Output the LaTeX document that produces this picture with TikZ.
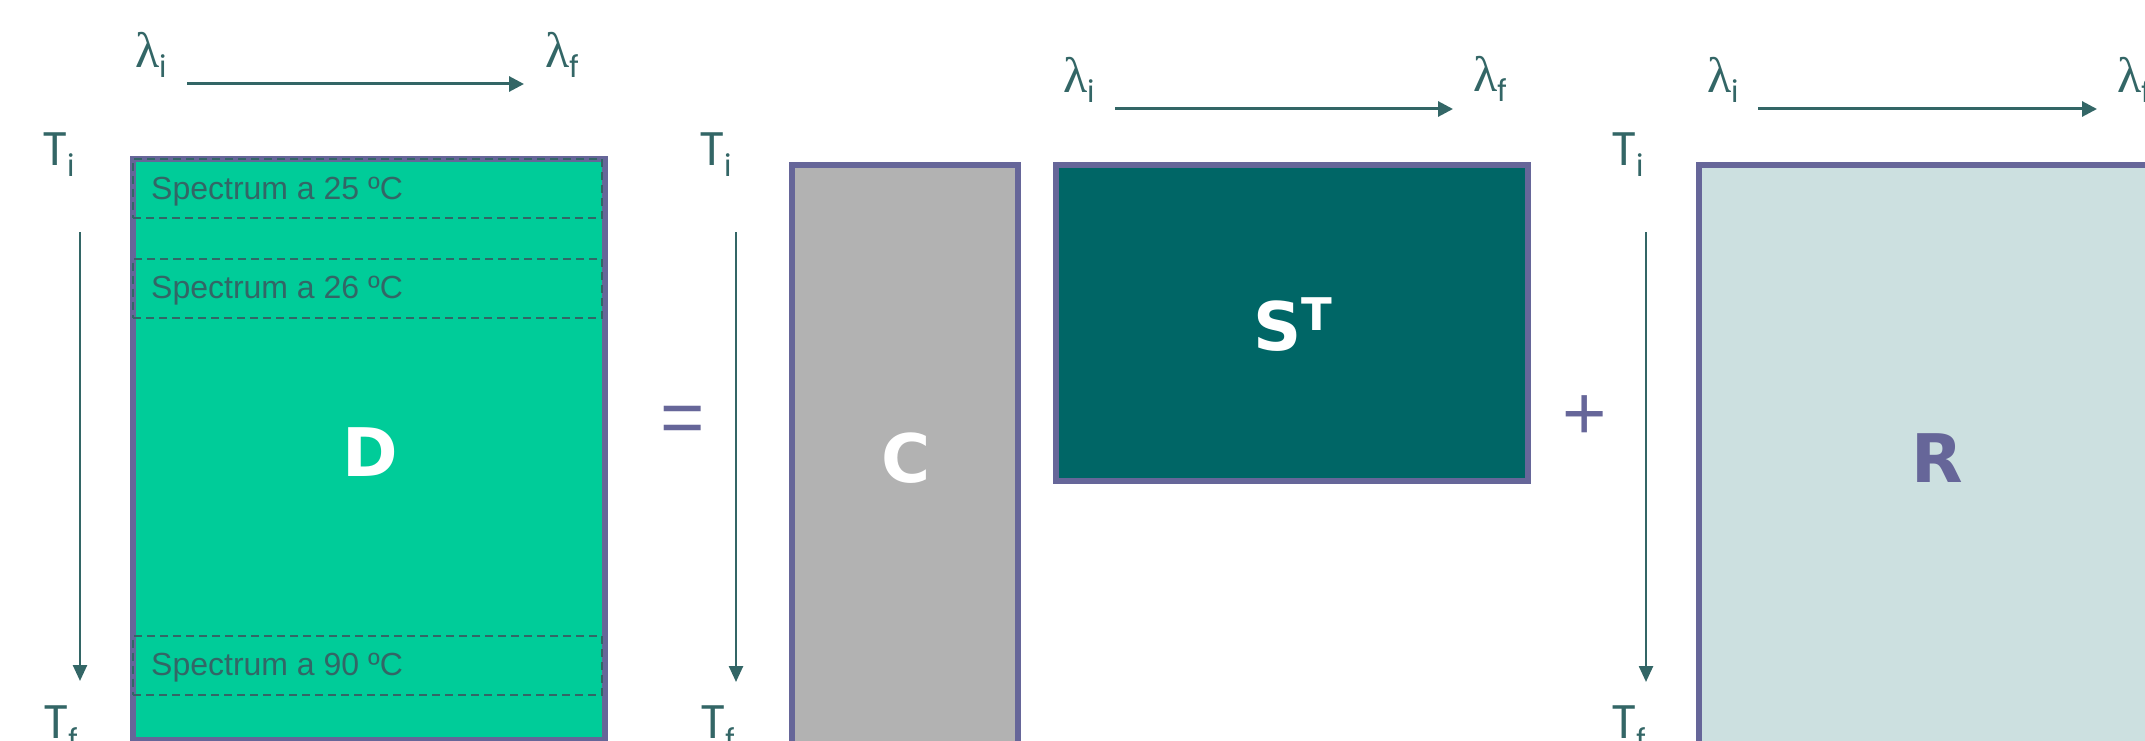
\documentclass[tikz,border=0pt]{standalone}
\usepackage{fontspec}
\setmainfont{Liberation Sans}
\newfontfamily\lamfont{Liberation Serif}
\newfontfamily\tfont{Poppins}
\newfontfamily\opfont{DejaVu Sans}
\usetikzlibrary{arrows.meta}

\definecolor{matborder}{HTML}{666699}
\definecolor{dfill}{HTML}{00CC99}
\definecolor{cfill}{HTML}{B2B2B2}
\definecolor{sfill}{HTML}{006666}
\definecolor{rfill}{HTML}{CCE0E0}
\definecolor{axiscol}{HTML}{336666}

% wavelength and temperature labels with lowered index
\newcommand{\lamlab}[1]{{\lamfont\fontsize{50}{50}\selectfont λ}\raisebox{-10pt}{\tfont\fontsize{30}{30}\selectfont #1}}
\newcommand{\templab}[1]{{\tfont\fontsize{47}{47}\selectfont T}\raisebox{-12pt}{\tfont\fontsize{30}{30}\selectfont #1}}

\tikzset{
  mat/.style={draw=matborder, line width=5.5pt, inner sep=0pt, outer sep=0pt},
  band/.style={draw=axiscol, line width=2pt, dash pattern=on 8pt off 5pt,
    inner sep=0pt, outer sep=0pt, minimum width=469pt, minimum height=59pt},
  bandtext/.style={anchor=base west, inner sep=0pt, text=axiscol,
    font=\fontsize{32}{32}\selectfont},
  axislab/.style={anchor=base west, inner sep=0pt, text=axiscol},
  axisarrow/.style={draw=axiscol, line width=3pt,
    -{Triangle[length=15pt,width=15pt]}},
  taxisarrow/.style={draw=axiscol, line width=2.5pt,
    -{Triangle[length=16pt,width=14pt]}},
  matname/.style={anchor=base, inner sep=0pt, text=white,
    font=\opfont\bfseries\fontsize{67}{67}\selectfont},
  opsign/.style={anchor=base, inner sep=0pt, text=matborder,
    font=\fontsize{76}{76}\selectfont},
}

\begin{document}
\begin{tikzpicture}[x=1pt, y=-1pt]
\useasboundingbox (0,0) rectangle (2145,741);
\clip (0,0) rectangle (2145,741);

% ---- data matrix D with three spectra rows
\node[mat, fill=dfill, minimum width=472pt, minimum height=581pt] (D) at (369,449.5) {};
\node[band] (b1) at (367.5,188.5) {};
\node[band] (b2) at (367.5,288) {};
\node[band] (b3) at (367.5,665) {};
\node[bandtext] (t1) at (151,199) {Spectrum a 25 ºC};
\node[bandtext] (t2) at (151,298.5) {Spectrum a 26 ºC};
\node[bandtext] (t3) at (151,675.5) {Spectrum a 90 ºC};
\node[matname] (Dl) at (370,476) {D};

% ---- axes of D
\node[axislab] (li1) at (135,68) {\lamlab{i}};
\node[axislab] (lf1) at (545,68) {\lamlab{f}};
\coordinate (h1s) at (187,84);
\coordinate (h1e) at (524,84);
\draw[axisarrow] (h1s) -- (h1e);
\node[axislab] (ti1) at (42,165) {\templab{i}};
\node[axislab] (tf1) at (43,738) {\templab{f}};
\coordinate (v1s) at (80,232);
\coordinate (v1e) at (80,681);
\draw[taxisarrow] (v1s) -- (v1e);

% ---- equals sign
\node[opsign] (eq) at (683,443) {=};

% ---- concentration matrix C
\node[axislab] (ti2) at (699,165) {\templab{i}};
\node[axislab] (tf2) at (700,738) {\templab{f}};
\coordinate (v2s) at (736,232);
\coordinate (v2e) at (736,682);
\draw[taxisarrow] (v2s) -- (v2e);
\node[mat, fill=cfill, minimum width=226pt, minimum height=595pt] (C) at (905,462.5) {};
\node[matname] (Cl) at (906,482) {C};

% ---- spectra matrix S^T
\node[axislab] (li2) at (1063,93) {\lamlab{i}};
\node[axislab] (lf2) at (1473,92) {\lamlab{f}};
\coordinate (h2s) at (1115,109);
\coordinate (h2e) at (1453,109);
\draw[axisarrow] (h2s) -- (h2e);
\node[mat, fill=sfill, minimum width=472pt, minimum height=316pt] (S) at (1292,323) {};
\node[matname, anchor=base west] (Sl) at (1253,350) {S\raisebox{20pt}{\fontsize{45}{45}\selectfont T}};

% ---- plus sign
\node[opsign] (plus) at (1585,439) {+};

% ---- residual matrix R
\node[axislab] (ti3) at (1611,165) {\templab{i}};
\node[axislab] (tf3) at (1611,738) {\templab{f}};
\coordinate (v3s) at (1646,232);
\coordinate (v3e) at (1646,682);
\draw[taxisarrow] (v3s) -- (v3e);
\node[axislab] (li3) at (1707,93) {\lamlab{i}};
\node[axislab] (lf3) at (2117,93) {\lamlab{f}};
\coordinate (h3s) at (1758,109);
\coordinate (h3e) at (2097,109);
\draw[axisarrow] (h3s) -- (h3e);
\node[mat, fill=rfill, minimum width=501pt, minimum height=595pt] (R) at (1949.5,462.5) {};
\node[matname, text=matborder] (Rl) at (1937,482) {R};
\end{tikzpicture}
\end{document}
